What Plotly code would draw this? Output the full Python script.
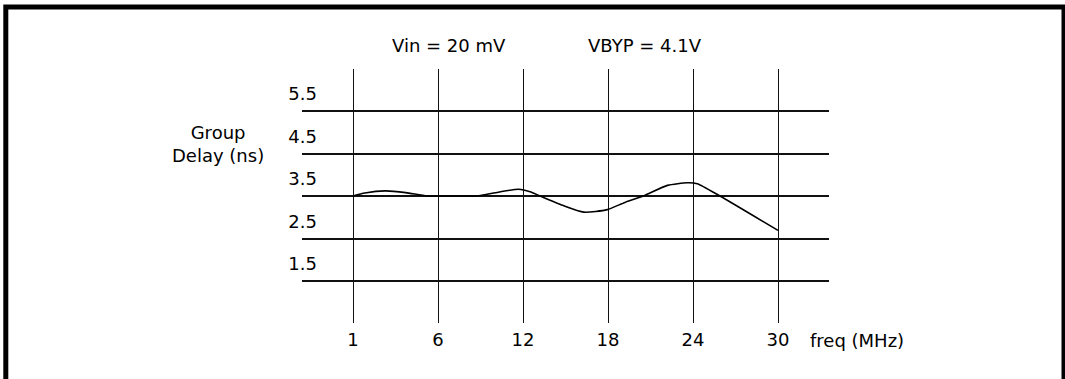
import numpy as np
import plotly.graph_objects as go

# ---- data ----
tick_freqs = [1, 6, 12, 18, 24, 30]
tick_labels = ["1", "6", "12", "18", "24", "30"]
y_ticks = [1.5, 2.5, 3.5, 4.5, 5.5]
y_tick_labels = ["1.5", "2.5", "3.5", "4.5", "5.5"]

freq_mhz = [1.0, 1.7, 2.9, 4.1, 5.35, 6.5, 7.6, 8.75, 10.25, 11.7, 12.5, 13.2, 14.8,
            16.3, 17.95, 19.2, 20.5, 22.2, 23.6, 24.3, 25.9, 30.0]
delay_ns = [3.50, 3.57, 3.62, 3.58, 3.50, 3.50, 3.50, 3.50, 3.59, 3.66, 3.60, 3.50, 3.28,
            3.12, 3.18, 3.35, 3.50, 3.75, 3.81, 3.79, 3.50, 2.69]

# ---- layout geometry (pixels) ----
W, H = 1065, 379
L, R, T, B = 302, 829, 69, 323
pw, ph = R - L, B - T


def px(xp):
    return (xp - L) / pw


def py(yp):
    return (B - yp) / ph


# freq axis ticks are evenly spaced (not linear in MHz)
tick_pos = list(range(len(tick_freqs)))
x_pos = np.interp(freq_mhz, tick_freqs, tick_pos)

FONT = "DejaVu Sans"
fs = 18

fig = go.Figure()
fig.add_trace(go.Scatter(
    x=x_pos, y=delay_ns, mode="lines",
    line=dict(color="black", width=1.6, shape="spline", smoothing=0.6),
    showlegend=False, hoverinfo="skip",
))

fig.update_layout(
    width=W, height=H,
    margin=dict(l=L, r=W - R, t=T, b=H - B, pad=0),
    paper_bgcolor="white", plot_bgcolor="white",
    font=dict(family=FONT, size=fs, color="black"),
    xaxis=dict(
        range=[-0.6, 5.6], tickvals=tick_pos, ticktext=tick_labels,
        showgrid=True, gridcolor="#111", gridwidth=1.2,
        zeroline=False, showline=False, ticks="",
        ticklabelstandoff=4,
        tickfont=dict(family=FONT, size=fs, color="black"),
    ),
    yaxis=dict(
        range=[1.5 - 42 / 42.5, 5.5 + 42 / 42.5],
        tickvals=y_ticks, ticktext=y_tick_labels,
        showgrid=True, gridcolor="#111", gridwidth=1.7,
        zeroline=False, showline=False, ticks="",
        ticklabelshift=-17, ticklabelstandoff=-16,
        tickfont=dict(family=FONT, size=fs, color="black"),
    ),
    annotations=[
        dict(text="Vin = 20 mV", x=px(449), y=py(46), xref="paper", yref="paper",
             showarrow=False, xanchor="center", yanchor="middle"),
        dict(text="VBYP = 4.1V", x=px(645), y=py(46), xref="paper", yref="paper",
             showarrow=False, xanchor="center", yanchor="middle"),
        dict(text="Group<br>Delay (ns)", x=px(218), y=py(144), xref="paper", yref="paper",
             showarrow=False, xanchor="center", yanchor="middle", align="center"),
        dict(text="freq (MHz)", x=px(857), y=py(340), xref="paper", yref="paper",
             showarrow=False, xanchor="center", yanchor="middle"),
    ],
    shapes=[
        dict(type="path", xref="paper", yref="paper",
             path=f"M {px(5.8)} {py(395)} L {px(5.8)} {py(7)} L {px(1064)} {py(7)} L {px(1064)} {py(395)}",
             line=dict(color="black", width=5)),
    ],
)

fig.write_html("out.html", config={"displayModeBar": False},
               post_script="document.body.style.margin='0';")
